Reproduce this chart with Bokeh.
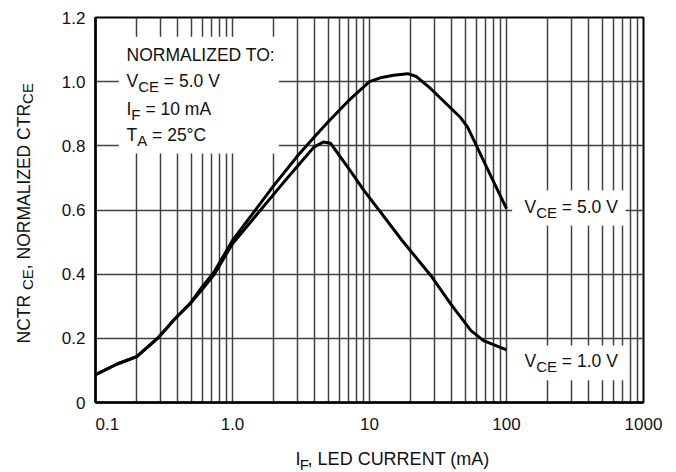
import math
from bokeh.plotting import figure
from bokeh.layouts import row, column
from bokeh.models import FixedTicker, Label, BoxAnnotation, Range1d
from bokeh.embed import file_html
from bokeh.resources import INLINE

# ---------------- data ----------------
x_ticks = [0.1, 1.0, 10, 100, 1000]
x_tick_labels = ["0.1", "1.0", "10", "100", "1000"]
x_decades = [0.1, 1.0, 10, 100]
x_minor_mult = [2, 3, 4, 5, 6, 7, 8, 9]
y_ticks = [0, 0.2, 0.4, 0.6, 0.8, 1.0, 1.2]
y_tick_labels = ["0", "0.2", "0.4", "0.6", "0.8", "1.0", "1.2"]

# V_CE = 5.0 V curve
if_5v = [0.1, 0.144, 0.2, 0.29, 0.38, 0.49, 0.6, 0.73, 1.0, 1.5, 2.0, 3.0, 4.0,
         5.0, 7.0, 10, 12, 15, 19, 22, 28, 40, 46, 52, 76, 100]
nctr_5v = [0.087, 0.12, 0.143, 0.204, 0.261, 0.308, 0.36, 0.405, 0.505, 0.605, 0.676, 0.77, 0.83,
           0.875, 0.94, 1.0, 1.012, 1.02, 1.025, 1.016, 0.978, 0.914, 0.889, 0.858, 0.71, 0.604]

# V_CE = 1.0 V curve
if_1v = [0.1, 0.144, 0.2, 0.29, 0.38, 0.49, 0.6, 0.73, 1.0, 1.5, 2.37, 3.0, 3.93,
         4.6, 5.2, 7.0, 9.1, 12, 17.3, 28, 39, 55, 68, 100]
nctr_1v = [0.087, 0.12, 0.143, 0.204, 0.261, 0.308, 0.352, 0.397, 0.495, 0.585, 0.687, 0.738, 0.796,
           0.812, 0.808, 0.731, 0.661, 0.594, 0.505, 0.396, 0.308, 0.224, 0.193, 0.164]

# ---------------- styling / layout ----------------
FONT = "Liberation Sans"
TXT = "#111111"
GRID = "#404040"
MAIN = 17.5
SUB = 15
BL_FIX = 7           # correction between requested and drawn baseline

TOTAL_W, TOTAL_H = 676, 472
YT_W = 40            # strip holding the vertical axis title
XT_H = 30            # strip holding the horizontal axis title
FL, FT, FR, FB = 95, 17, 643, 402   # frame edges in page px

MAIN_W = TOTAL_W - YT_W
MAIN_H = TOTAL_H - XT_H

p = figure(width=MAIN_W, height=MAIN_H, x_axis_type="log", output_backend="svg",
           toolbar_location=None, title=None,
           x_range=Range1d(x_ticks[0], x_ticks[-1]),
           y_range=Range1d(y_ticks[0], y_ticks[-1]),
           min_border_left=FL - YT_W, min_border_right=TOTAL_W - FR,
           min_border_top=FT, min_border_bottom=MAIN_H - FB)
p.background_fill_color = "white"
p.border_fill_color = "white"
p.outline_line_color = "black"
p.outline_line_width = 2

minor = [d * m for d in x_decades for m in x_minor_mult]
p.xaxis.ticker = FixedTicker(ticks=x_ticks, minor_ticks=minor)
p.yaxis.ticker = FixedTicker(ticks=y_ticks)
xo = {t: l for t, l in zip(x_ticks, x_tick_labels)}
xo[x_ticks[0]] = "\u00a0" * 5 + x_tick_labels[0]   # the reference shifts "0.1" to the right
p.xaxis.major_label_overrides = xo
p.yaxis.major_label_overrides = {t: l for t, l in zip(y_ticks, y_tick_labels)}

for ax in (p.xaxis, p.yaxis):
    ax.axis_line_color = "black"
    ax.axis_line_width = 2.5
    ax.major_tick_line_color = None
    ax.minor_tick_line_color = None
    ax.major_tick_out = 0
    ax.major_tick_in = 0
    ax.minor_tick_out = 0
    ax.minor_tick_in = 0
    ax.major_label_text_font = FONT
    ax.major_label_text_font_size = "17px"
    ax.major_label_text_color = TXT
p.xaxis.major_label_standoff = 12
p.yaxis.major_label_standoff = 10

p.xgrid.grid_line_color = GRID
p.xgrid.grid_line_width = 1.5
p.xgrid.minor_grid_line_color = GRID
p.xgrid.minor_grid_line_width = 1.5
p.ygrid.grid_line_color = GRID
p.ygrid.grid_line_width = 1.5

# curves
p.line(if_5v, nctr_5v, line_color="black", line_width=3, line_join="round")
p.line(if_1v, nctr_1v, line_color="black", line_width=3, line_join="round")

# white boxes behind annotation texts
for l, r, b, t in [(0.148, 2.18, 0.776, 1.14), (110, 740, 0.552, 0.661), (110, 740, 0.069, 0.178)]:
    p.add_layout(BoxAnnotation(left=l, right=r, bottom=b, top=t, fill_color="white",
                               fill_alpha=1.0, line_color=None))

# strips for the axis titles (plain canvases in page pixels)
def strip(w, h, x0, y0):
    f = figure(width=w, height=h, output_backend="svg", toolbar_location=None, title=None,
               x_axis_type=None, y_axis_type=None,
               x_range=Range1d(x0, x0 + w), y_range=Range1d(y0 + h, y0),
               min_border=0)
    f.outline_line_color = None
    f.background_fill_color = "white"
    f.border_fill_color = "white"
    return f

ytf = strip(YT_W, TOTAL_H, 0, 0)
xtf = strip(MAIN_W, XT_H, YT_W, MAIN_H)

# ---------------- text helpers ----------------
AW = {'N': 722, 'C': 722, 'T': 611, 'R': 722, 'E': 667, ' ': 278, ',': 278, 'O': 778,
      'M': 833, 'A': 667, 'L': 556, 'I': 278, 'Z': 611, 'D': 722, ':': 278, 'V': 667,
      '=': 584, '.': 278, 'F': 611, 'm': 833, 'a': 556, '°': 400, '(': 333, ')': 333,
      'U': 722}


def tw(s, size):
    return sum(AW.get(c, 556) for c in s) * size / 1000.0


def put_main(txt, wx, wy, size, angle=0.0):
    p.add_layout(Label(x=x_ticks[0], y=y_ticks[0], x_offset=wx - FL, y_offset=FB - wy,
                       text=txt, text_font=FONT, text_font_size=f"{size}px",
                       text_align="left", text_baseline="alphabetic",
                       angle=angle, text_color=TXT))


def put_strip(fig):
    def _put(txt, wx, wy, size, angle=0.0):
        fig.add_layout(Label(x=wx, y=wy, text=txt, text_font=FONT,
                             text_font_size=f"{size}px", text_align="left",
                             text_baseline="alphabetic", angle=angle, text_color=TXT))
    return _put


def rich(put, parts, wx, wy, angle=0.0, drop=6, main=MAIN, sub=SUB):
    pos = 0.0
    for t, is_sub in parts:
        size = sub if is_sub else main
        while t.startswith(" "):
            pos += tw(" ", size)
            t = t[1:]
        d = drop if is_sub else 0
        if angle == 0.0:
            put(t, wx + pos, wy + d - BL_FIX, size)
        else:
            put(t, wx + d - BL_FIX, wy - pos, size, angle)
        pos += tw(t, size)


# box text
rich(put_main, [("NORMALIZED TO:", False)], 126, 61)
rich(put_main, [("V", False), ("CE", True), (" = 5.0 V", False)], 126, 87)
rich(put_main, [("I", False), ("F", True), (" = 10 mA", False)], 126, 115)
rich(put_main, [("T", False), ("A", True), (" = 25°C", False)], 126, 141)

# curve labels
rich(put_main, [("V", False), ("CE", True), (" = 5.0 V", False)], 524, 213)
rich(put_main, [("V", False), ("CE", True), (" = 1.0 V", False)], 524, 367)

# axis titles
rich(put_strip(xtf), [("I", False), ("F", True), (", LED CURRENT (mA)", False)], 272, 465,
     main=18, sub=15)
rich(put_strip(ytf), [("NCTR ", False), ("CE", True), (", NORMALIZED CTR", False), ("CE", True)],
     30, 343, angle=math.pi / 2, drop=4)

layout = row(ytf, column(p, xtf))
open("out.html", "w").write(file_html(layout, INLINE))
